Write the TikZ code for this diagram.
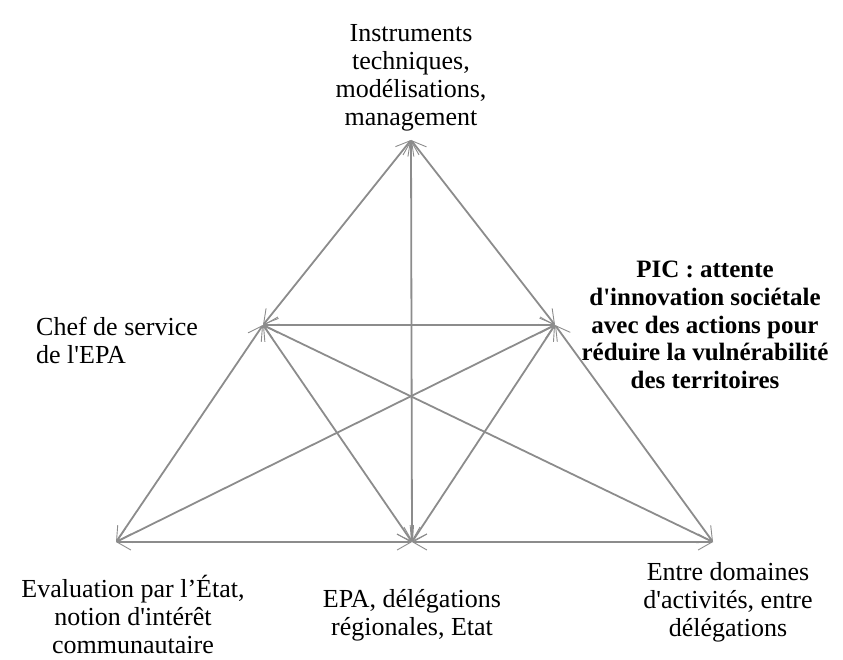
\documentclass[tikz,border=0pt]{standalone}
\usepackage{fontspec}
\setmainfont{Liberation Serif}[Ligatures=TeXOff]
\usetikzlibrary{arrows.meta}
\begin{document}
\begin{tikzpicture}[x=1pt,y=-1pt,
  tip/.tip={Straight Barb[length=14pt,width=16pt,line width=0.9pt]},
  link/.style={draw=black!45, line width=1.8pt, tip-tip},
  lbl/.style={font=\fontsize{26}{28}\selectfont, align=center, inner sep=0pt},
  blbl/.style={lbl, font=\fontsize{25}{27.6}\selectfont\bfseries}]
\useasboundingbox (0,0) rectangle (843,660);
\coordinate (T) at (411,140);
\coordinate (L) at (263,325);
\coordinate (R) at (555,325);
\coordinate (BL) at (116,542);
\coordinate (BM) at (412,542);
\coordinate (BR) at (713,542);
\draw[link] (T) -- (L);
\draw[link] (T) -- (R);
\draw[link] (T) -- (BM);
\draw[link] (L) -- (R);
\draw[link] (L) -- (BL);
\draw[link] (L) -- (BM);
\draw[link] (L) -- (BR);
\draw[link] (R) -- (BL);
\draw[link] (R) -- (BM);
\draw[link] (R) -- (BR);
\draw[link] (BL) -- (BM);
\draw[link] (BM) -- (BR);
\node[lbl, anchor=south] (top) at (411,131) {Instruments\\techniques,\\modélisations,\\management};
\node[blbl] (pic) at (705,325) {PIC : attente\\d'innovation sociétale\\avec des actions pour\\réduire la vulnérabilité\\des territoires};
\node[lbl, anchor=west, align=left] (chef) at (36,340) {Chef de service\\de l'EPA};
\node[lbl, anchor=north] (eval) at (133,575) {Evaluation par l’État,\\notion d'intérêt\\communautaire};
\node[lbl, anchor=north] (epa) at (412,589) {EPA, délégations\\régionales, Etat};
\node[lbl, anchor=north] (entre) at (728,562) {Entre domaines\\d'activités, entre\\délégations};
\end{tikzpicture}
\end{document}
